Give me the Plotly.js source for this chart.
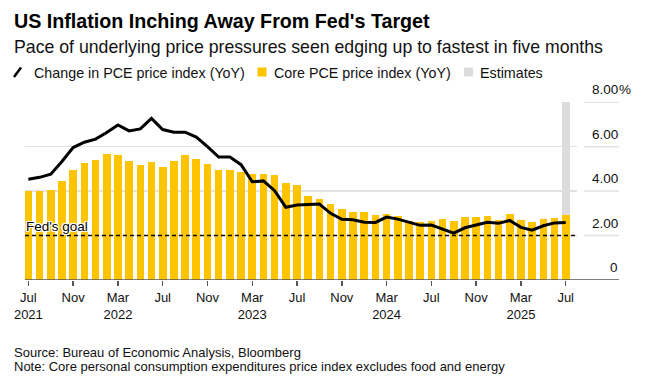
<!DOCTYPE html>
<html>
<head>
<meta charset="utf-8">
<script src="https://cdn.plot.ly/plotly-3.0.1.min.js"></script>
<style>body{margin:0;background:#fff}#chart{width:652px;height:387px}</style>
</head>
<body>
<div id="chart"></div>
<script>
const months = ['Jul 2021','Aug 2021','Sep 2021','Oct 2021','Nov 2021','Dec 2021',
  'Jan 2022','Feb 2022','Mar 2022','Apr 2022','May 2022','Jun 2022','Jul 2022','Aug 2022','Sep 2022','Oct 2022','Nov 2022','Dec 2022',
  'Jan 2023','Feb 2023','Mar 2023','Apr 2023','May 2023','Jun 2023','Jul 2023','Aug 2023','Sep 2023','Oct 2023','Nov 2023','Dec 2023',
  'Jan 2024','Feb 2024','Mar 2024','Apr 2024','May 2024','Jun 2024','Jul 2024','Aug 2024','Sep 2024','Oct 2024','Nov 2024','Dec 2024',
  'Jan 2025','Feb 2025','Mar 2025','Apr 2025','May 2025','Jun 2025','Jul 2025'];

const headlinePCE = [4.53,4.62,4.76,5.33,5.96,6.20,6.34,6.64,6.98,6.71,6.80,7.27,
  6.77,6.65,6.65,6.43,6.00,5.53,5.53,5.19,4.42,4.46,4.02,3.27,
  3.37,3.39,3.42,3.00,2.73,2.71,2.60,2.59,2.83,2.74,2.59,2.46,
  2.47,2.30,2.11,2.35,2.47,2.60,2.55,2.68,2.37,2.24,2.44,2.57,2.59];

const corePCE = [4.00,4.00,4.05,4.47,4.94,5.25,5.40,5.66,5.64,5.36,5.19,5.31,
  5.10,5.36,5.61,5.46,5.21,4.95,4.95,4.88,4.79,4.79,4.71,4.38,
  4.28,3.79,3.64,3.43,3.21,3.04,3.06,2.94,2.98,2.89,2.66,2.62,
  2.66,2.74,2.66,2.82,2.83,2.88,2.70,2.97,2.71,2.62,2.75,2.79,2.91];

const estimateMonths = ['Jul 2025'];
const estimateTop = [8];

const fedGoal = 2;

const tickMonths = ['Jul 2021','Nov 2021','Mar 2022','Jul 2022','Nov 2022','Mar 2023','Jul 2023','Nov 2023','Mar 2024','Jul 2024','Nov 2024','Mar 2025','Jul 2025'];
const tickLabels = ['Jul<br>2021','Nov','Mar<br>2022','Jul','Nov','Mar<br>2023','Jul','Nov','Mar<br>2024','Jul','Nov','Mar<br>2025','Jul'];

const yTicks = [0,2,4,6,8];
const yTickLabels = ['0','2.00','4.00','6.00','8.00'];

const legendNames = ['Change in PCE price index (YoY)','Core PCE price index (YoY)','Estimates'];

const titleText = "US Inflation Inching Away From Fed's Target";
const subtitleText = 'Pace of underlying price pressures seen edging up to fastest in five months';
const sourceText = 'Source: Bureau of Economic Analysis, Bloomberg';
const noteText = 'Note: Core personal consumption expenditures price index excludes food and energy';

const W = 652, H = 387;
const L = 25, R = 577, T = 102, B = 280;
const px2x = p => (p - L) / (R - L);
const py2y = p => (B - p) / (B - T);
const FONT = 'Liberation Sans, Arial, Helvetica, sans-serif';
const YELLOW = '#FFC400';
const GRAY = '#dcdcdc';

const traces = [
  {type:'bar', x: estimateMonths, y: estimateTop, width: 0.68, marker:{color: GRAY, line:{width:0}}, hoverinfo:'skip', name: legendNames[2]},
  {type:'bar', x: months, y: corePCE, width: 0.68, marker:{color: YELLOW, line:{width:0}}, name: legendNames[1]},
  {type:'scatter', mode:'lines', x: months, y: headlinePCE, line:{color:'#000', width:3, shape:'linear'}, name: legendNames[0]}
];

const shapes = [];
shapes.push({type:'line', xref:'paper', yref:'y', x0:0, x1:px2x(619), y0:0, y1:0, line:{color:'#555', width:1.5}});
yTicks.filter(v => v > 0).forEach(v => {
  shapes.push({type:'line', xref:'paper', yref:'y', x0:px2x(584), x1:px2x(619), y0:v, y1:v, line:{color:'#e3e3e3', width:1.5}, layer:'below'});
});
shapes.push({type:'line', xref:'paper', yref:'y', x0:0, x1:1, y0:fedGoal, y1:fedGoal, line:{color:'#000', width:1.5, dash:'4px,3px'}});
shapes.push({type:'line', xref:'paper', yref:'paper', x0:px2x(14), y0:py2y(77), x1:px2x(21), y1:py2y(67.5), line:{color:'#000', width:2.5}});
shapes.push({type:'rect', xref:'paper', yref:'paper', x0:px2x(257.5), x1:px2x(266.5), y0:py2y(76.5), y1:py2y(67.5), fillcolor:YELLOW, line:{width:0}});
shapes.push({type:'rect', xref:'paper', yref:'paper', x0:px2x(464), x1:px2x(473), y0:py2y(76.5), y1:py2y(67.5), fillcolor:GRAY, line:{width:0}});

const annotations = [];
const ann = (text, xpx, ypx, size, color) => ({
  text, xref:'paper', yref:'paper', x:px2x(xpx), y:py2y(ypx), xanchor:'left', yanchor:'middle',
  showarrow:false, font:{family:FONT, size, color: color || '#111'}
});

annotations.push(ann('<b>' + titleText + '</b>', 12, 21.5, 19.7, '#000'));
annotations.push(ann(subtitleText, 12, 47.3, 17.7));
annotations.push(ann(legendNames[0], 31.5, 72.5, 14.3));
annotations.push(ann(legendNames[1], 272, 72.5, 14.3));
annotations.push(ann(legendNames[2], 478, 72.5, 14.3));
annotations.push(ann(sourceText, 12, 352, 13));
annotations.push(ann(noteText, 12, 366, 13));

yTicks.forEach((v, i) => {
  annotations.push({text: yTickLabels[i], xref:'paper', yref:'y', x:px2x(620), y:v, xanchor:'right', yanchor:'bottom', yshift:3,
    showarrow:false, font:{family:FONT, size:13.5, color:'#111'}});
});
annotations.push({text:'%', xref:'paper', yref:'y', x:px2x(616.5), y:yTicks[yTicks.length-1], xanchor:'left', yanchor:'bottom', yshift:3,
  showarrow:false, font:{family:FONT, size:13.5, color:'#111'}});

annotations.push({text:"Fed's goal", xref:'paper', yref:'y', x:0, y:fedGoal, xanchor:'left', yanchor:'bottom', xshift:-1, yshift:0,
  showarrow:false, font:{family:FONT, size:13.5, color:'#000',
  shadow:'1px 0 0 #fff, -1px 0 0 #fff, 0 1px 0 #fff, 0 -1px 0 #fff, 1px 1px 0 #fff, -1px -1px 0 #fff, 1px -1px 0 #fff, -1px 1px 0 #fff'}});

const layout = {
  width: W, height: H,
  margin: {l:L, r:W-R, t:T, b:H-B, pad:0},
  paper_bgcolor:'#fff', plot_bgcolor:'#fff',
  showlegend:false,
  barmode:'overlay',
  bargap:0,
  xaxis: {type:'category', categoryorder:'array', categoryarray: months, range:[-0.3, 49.01],
    tickmode:'array', tickvals: tickMonths, ticktext: tickLabels,
    ticks:'outside', ticklen:5, tickwidth:1.5, tickcolor:'#555', showgrid:false, showline:false, zeroline:false,
    tickfont:{family:FONT, size:13, color:'#111'}, fixedrange:true},
  yaxis: {range:[0, 8.01], tickmode:'array', tickvals: yTicks, showticklabels:false, ticks:'',
    showgrid:true, gridcolor:'#e3e3e3', gridwidth:1.5, zeroline:false, showline:false, fixedrange:true},
  shapes, annotations
};

Plotly.newPlot('chart', traces, layout, {displayModeBar:false, staticPlot:true});
</script>
</body>
</html>
